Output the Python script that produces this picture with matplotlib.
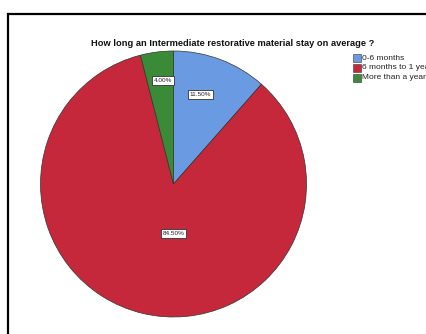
import numpy as np
import matplotlib
matplotlib.use('Agg')
from matplotlib import pyplot as plt
from matplotlib.patches import Rectangle

# Data
categories = ['0-6 months', '6 months to 1 year', 'More than a year']
percents = [11.5, 84.5, 4.0]
colors = ['#6a9be2', '#c5283a', '#3b8a37']

# label placement (radius fraction, angle shift in degrees from slice middle)
label_r = [0.70, 0.37, 0.78]
label_shift = [4.0, 13.5, -1.4]

plt.rcParams['font.family'] = ['Liberation Sans', 'DejaVu Sans']

W, H = 427, 334
fig = plt.figure(figsize=(W/100, H/100), dpi=100)
fig.patch.set_facecolor('white')

# Outer frame (runs off the right and bottom edges)
fig.patches.append(Rectangle((8/W, -0.1), 1.2, (H-14)/H + 0.1, transform=fig.transFigure,
                             fill=False, edgecolor='black', linewidth=1.6, clip_on=False))

# Pie axes placed in pixels: center (173,184), radius 133
cx, cy, r = 173.5, 184, 133
ax = fig.add_axes([(cx-r)/W, (H-cy-r)/H, 2*r/W, 2*r/H])
wedges, _ = ax.pie(percents, colors=colors, startangle=90, counterclock=False,
                   radius=1, wedgeprops=dict(edgecolor='#333333', linewidth=0.5))
ax.set_xlim(-1, 1)
ax.set_ylim(-1, 1)
ax.set_aspect('equal')
ax.axis('off')

# Percentage labels
for w, p, lr, sh in zip(wedges, percents, label_r, label_shift):
    ang = np.deg2rad((w.theta1 + w.theta2) / 2 + sh)
    ax.text(lr*np.cos(ang), lr*np.sin(ang), '%.2f%%' % p, ha='center', va='center',
            fontsize=4.6, color='#222222',
            bbox=dict(boxstyle='square,pad=0.3', facecolor='white', edgecolor='#333333', linewidth=0.6))

# Title
fig.text(233/W, 1 - 44/H, 'How long an Intermediate restorative material stay on average ?',
         ha='center', va='center', fontsize=6.7, fontweight='bold', color='#111111')

# Legend
for i, (c, lab) in enumerate(zip(colors, categories)):
    y = 58 + i*9.8
    fig.patches.append(Rectangle((353/W, 1 - (y+4)/H), 8/W, 8/H, transform=fig.transFigure,
                                 facecolor=c, edgecolor='#333333', linewidth=0.4))
    fig.text(362/W, 1 - y/H, lab, ha='left', va='center', fontsize=6.0, color='#222222')

fig.savefig('out.png', dpi=100)
